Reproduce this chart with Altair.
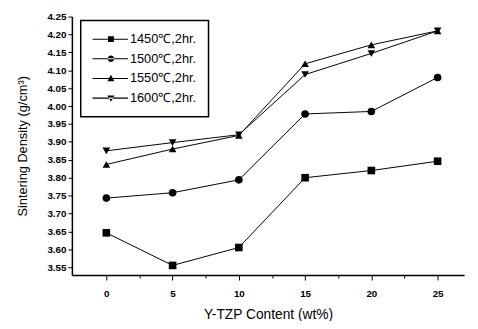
import altair as alt
import pandas as pd

# ---- data ----
content = [0, 5, 10, 15, 20, 25]
series_names = ["1450℃,2hr.", "1500℃,2hr.", "1550℃,2hr.", "1600℃,2hr."]
d1450 = [3.646, 3.555, 3.605, 3.800, 3.820, 3.846]
d1500 = [3.743, 3.758, 3.794, 3.978, 3.985, 4.080]
d1550 = [3.837, 3.880, 3.918, 4.118, 4.171, 4.210]
d1600 = [3.875, 3.898, 3.920, 4.088, 4.147, 4.210]
x_ticks = [0, 2.5, 5, 7.5, 10, 12.5, 15, 17.5, 20, 22.5, 25]
y_ticks = [3.55, 3.60, 3.65, 3.70, 3.75, 3.80, 3.85, 3.90, 3.95,
           4.00, 4.05, 4.10, 4.15, 4.20, 4.25]

rows = []
for name, vals in zip(series_names, [d1450, d1500, d1550, d1600]):
    for xv, yv in zip(content, vals):
        rows.append({"x": xv, "y": yv, "series": name, "entry": name})
df = pd.DataFrame(rows)

FONT = "Liberation Sans"

x_enc = alt.X(
    "x:Q",
    scale=alt.Scale(domain=[-2.6, 27], nice=False, zero=False),
    axis=alt.Axis(
        title="Y-TZP Content (wt%)",
        values=x_ticks,
        labelExpr="datum.value % 5 == 0 ? format(datum.value, 'd') : ''",
        tickSize=alt.expr("datum.value % 5 == 0 ? 5 : 3"),
        labelOverlap=False,
        grid=False,
        domainColor="black",
        tickColor="black",
        domainWidth=1.5,
        labelFont=FONT,
        labelFontSize=10,
        labelFontWeight="bold",
        labelColor="black",
        labelPadding=9,
        titleFont=FONT,
        titleFontSize=14,
        titleFontWeight="normal",
        titleColor="black",
        titlePadding=9,
    ),
)
y_enc = alt.Y(
    "y:Q",
    scale=alt.Scale(domain=[3.528, 4.25], nice=False, zero=False),
    axis=alt.Axis(
        title="Sintering Density (g/cm³)",
        values=y_ticks,
        labelExpr="format(datum.value, '.2f')",
        tickSize=4,
        labelOverlap=False,
        labelBound=False,
        labelSeparation=0,
        grid=False,
        domainColor="black",
        tickColor="black",
        domainWidth=1.5,
        labelFont=FONT,
        labelFontSize=10,
        labelFontWeight="bold",
        labelColor="black",
        labelPadding=2,
        titleFont=FONT,
        titleFontSize=13,
        titleFontWeight="normal",
        titleColor="black",
        titlePadding=18,
    ),
)

base = alt.Chart(df)

lines = base.mark_line(color="black", strokeWidth=1).encode(
    x=x_enc, y=y_enc, detail="series:N"
)

points = base.mark_point(filled=True, color="black", size=60, opacity=1).encode(
    x=x_enc,
    y=y_enc,
    shape=alt.Shape(
        "series:N",
        scale=alt.Scale(domain=series_names,
                        range=["square", "circle", "triangle-up", "triangle-down"]),
        legend=None,
    ),
)

# legend symbols: short line with the marker on it (drawn as filled paths)
m = 1.95
ln = "M-1.17,-0.09H4.83V0.09H-1.17Z"
legend_paths = [
    f"{ln}M{m-0.5},-0.5H{m+0.5}V0.5H{m-0.5}Z",
    f"{ln}M{m-0.55},0A0.55,0.55 0 1 0 {m+0.55},0A0.55,0.55 0 1 0 {m-0.55},0Z",
    f"{ln}M{m},-0.62L{m+0.6},0.45L{m-0.6},0.45Z",
    f"{ln}M{m},0.62L{m+0.6},-0.45L{m-0.6},-0.45Z",
]

legend_layer = base.transform_filter("false").mark_point(
    filled=True, color="black", opacity=1, size=144
).encode(
    x=x_enc,
    y=y_enc,
    shape=alt.Shape(
        "entry:N",
        scale=alt.Scale(domain=series_names, range=legend_paths),
        sort=series_names,
        legend=alt.Legend(
            title=None,
            orient="none",
            legendX=9,
            legendY=4,
            padding=12,
            strokeColor="black",
            symbolSize=144,
            symbolFillColor="black",
            symbolOpacity=1,
            labelOffset=24,
            labelFont=FONT,
            labelFontSize=13,
            labelColor="black",
            rowPadding=6,
        ),
    ),
)

chart = (
    alt.layer(lines, points, legend_layer)
    .resolve_scale(shape="independent")
    .properties(
        width=399,
        height=263,
        autosize=alt.AutoSizeParams(type="none"),
        padding={"left": 65, "top": 6, "right": 6, "bottom": 44},
        background="white",
    )
    .configure_view(stroke=None)
    .configure_legend(strokeWidth=1.5)
)

chart.save("out.html", embed_options={"renderer": "svg", "actions": False})
